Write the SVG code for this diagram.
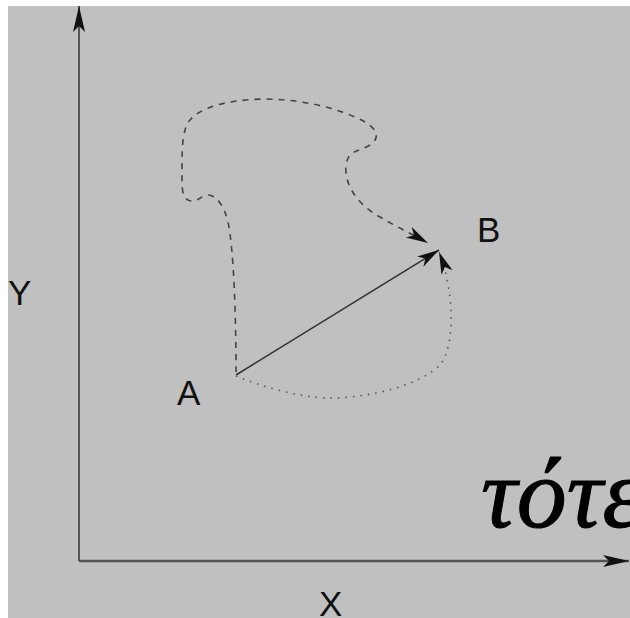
<svg xmlns="http://www.w3.org/2000/svg" width="630" height="618" viewBox="0 0 630 618">
<style>
.lbl{font-family:"Liberation Sans",Arial,sans-serif;font-size:35px;fill:#111}
.gr{font-family:"Liberation Serif","Times New Roman",serif;font-style:italic;font-size:100px;fill:#000;stroke:#000;stroke-width:1}
.axis{fill:none;stroke:#333;stroke-width:1.5}
.axx{fill:none;stroke:#555;stroke-width:2.5}
.solid{fill:none;stroke:#333;stroke-width:1.5}
.dash{fill:none;stroke:#444;stroke-width:1.6;stroke-dasharray:6 6}
.dot{fill:none;stroke:#555;stroke-width:1.6;stroke-dasharray:1.5 6}
</style>
<defs>
<marker id="ah" markerUnits="userSpaceOnUse" markerWidth="30" markerHeight="14" refX="26" refY="6" orient="auto" overflow="visible">
<path d="M0,0 L26,6 L0,12 L6,6 Z" fill="#111"/>
</marker>
<marker id="ahs" markerUnits="userSpaceOnUse" markerWidth="24" markerHeight="14" refX="22" refY="6" orient="auto" overflow="visible">
<path d="M0,0 L22,6 L0,12 L6,6 Z" fill="#111"/>
</marker>
</defs>
<rect x="0" y="0" width="630" height="618" fill="#fff"/>
<rect x="8" y="6" width="622" height="612" fill="#c0c0c0"/>
<g id="axes">
<path class="axis" d="M79,561 L79,6" marker-end="url(#ah)"/>
<path class="axx" d="M79,561 L629,561" marker-end="url(#ah)"/>
</g>
<g id="connectors">
<path class="solid" d="M236,375 L439,250" marker-end="url(#ahs)"/>
<path class="dash" d="M236,372 C236,320 234,250 228,222 C224,205 216,195 208,195 C200,196 196,204 188,200 C181,196 182,185 182,165 C182,145 183,128 190,120 C200,108 225,100 263,99 C300,99 340,108 365,122 C378,130 380,138 370,145 C358,152 348,150 346,165 C344,185 358,205 380,217 C395,226 410,233 428,243" marker-end="url(#ahs)"/>
<path class="dot" d="M236,376 C260,386 300,398 330,398 C370,398 420,385 440,365 C456,345 454,290 439,252" marker-end="url(#ahs)"/>
</g>
<g id="labels">
<text class="lbl" x="8" y="305">Y</text>
<text class="lbl" x="319" y="616">X</text>
<text class="lbl" x="177" y="405">A</text>
<text class="lbl" x="477" y="242">B</text>
<text class="gr" x="481" y="527">τότε</text>
</g>
</svg>
